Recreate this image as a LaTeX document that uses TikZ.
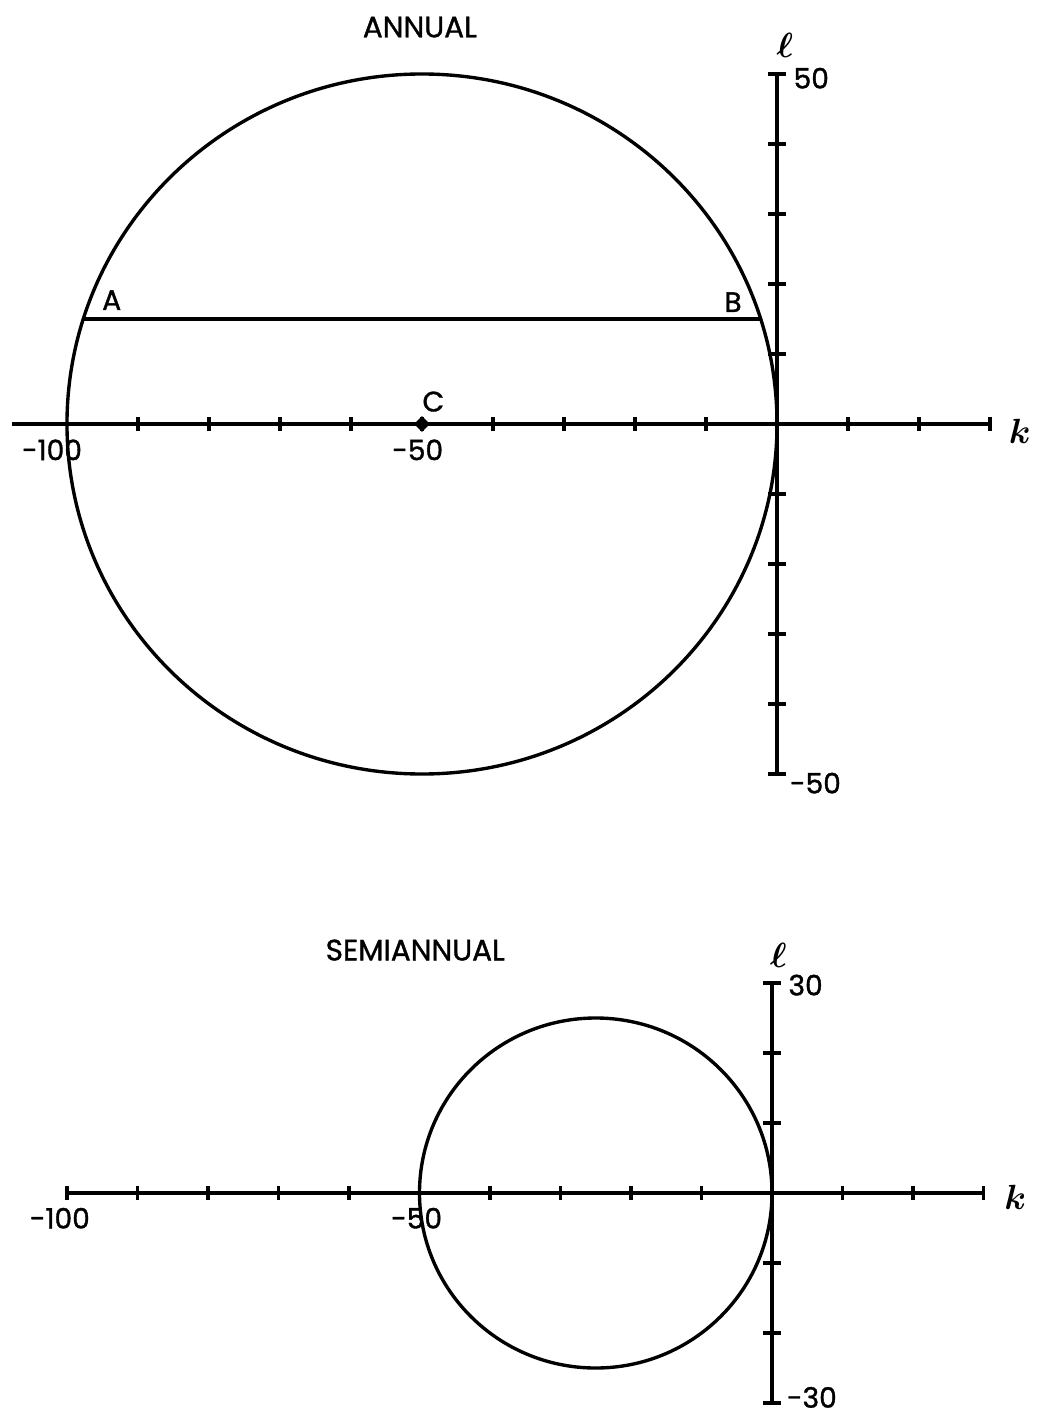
\documentclass[tikz,border=0pt]{standalone}
\usepackage{fontspec}
\setmainfont{Poppins}
\newfontfamily\lblfont{Poppins}[FakeBold=1.2]
\usetikzlibrary{positioning,shapes.geometric}

\begin{document}
\begin{tikzpicture}[
  axis/.style={line width=2.2pt},
  curve/.style={line width=2.4pt},
  tickmark/.style={line width=2.2pt},
  lbl/.style={font=\fontsize{20}{22}\lblfont, inner sep=1pt},
  ttl/.style={font=\fontsize{21}{23}\lblfont, inner sep=1pt},
  var/.style={font=\fontsize{26}{28}\selectfont\boldmath, inner sep=0pt}
]
  \useasboundingbox (0,0) rectangle (26.05,-35.4);

  % annual
  \begin{scope}[shift={(19.425,-10.6)}, x=0.1775cm, y=0.175cm]
    \coordinate (kl1) at (-107.7,0);
    \coordinate (kr1) at (30,0);
    \coordinate (lt1) at (0,50);
    \coordinate (lb1) at (0,-50);
    \draw[axis] (kl1) -- (kr1);
    \draw[axis] (lb1) -- (lt1);
    \foreach \k in {-90,-80,...,-10,10,20,30}
      \draw[tickmark] (\k,-1) -- (\k,1);
    \foreach \l in {-50,-40,...,-10,10,20,...,50}
      \draw[tickmark] (-1.3,\l) -- (1.3,\l);

    \draw[curve] (-50,0) circle[radius=50];
    \coordinate (pA) at (-97.7,15);
    \coordinate (pB) at (-2.3,15);
    \draw[curve] (pA) -- (pB);
    \node[diamond, fill, inner sep=2.8pt] (cC) at (-50,0) {};

    \node[lbl] (labA) at (-93.7,17.7) {A};
    \node[lbl] (labB) at (-6.2,17.4) {B};
    \node[lbl] (labC) at (-48.4,3.2) {C};
    \node[lbl] (km100) at (-102.1,-3.7) {-100};
    \node[lbl] (km50) at (-50.6,-3.7) {-50};
    \node[lbl, anchor=west] (lp50) at (2.1,49.4) {50};
    \node[lbl, anchor=west] (lm50) at (1.6,-51.3) {-50};
    \node[var] (lvar1) at (1.1,54.1) {$\ell$};
    \node[var] (kvar1) at (34.2,-1.1) {$k$};
    \node[ttl] (annual) at (-50.3,56.7) {ANNUAL};
  \end{scope}

  % semiannual
  \begin{scope}[shift={(19.3,-29.825)}, x=0.17625cm, y=0.175cm]
    \coordinate (kl2) at (-100,0);
    \coordinate (kr2) at (30,0);
    \coordinate (lt2) at (0,30);
    \coordinate (lb2) at (0,-30);
    \draw[axis] (kl2) -- (kr2);
    \draw[axis] (lb2) -- (lt2);
    \foreach \k in {-100,-90,...,-60,-40,-30,-20,-10,10,20,30}
      \draw[tickmark] (\k,-1) -- (\k,1);
    \foreach \l in {-30,-20,-10,10,20,30}
      \draw[tickmark] (-1.3,\l) -- (1.3,\l);

    \draw[curve] (-25,0) circle[radius=25];

    \node[lbl] (km100b) at (-101,-3.6) {-100};
    \node[lbl] (km50b) at (-50.4,-3.6) {-50};
    \node[lbl, anchor=west] (lp30) at (2.1,29.7) {30};
    \node[lbl, anchor=west, inner sep=0pt] (lm30) at (2.1,-29.2) {-30};
    \node[var] (lvar2) at (0.9,34) {$\ell$};
    \node[var] (kvar2) at (34.5,-0.6) {$k$};
    \node[ttl] (semi) at (-50.6,34.7) {SEMIANNUAL};
  \end{scope}
\end{tikzpicture}
\end{document}
